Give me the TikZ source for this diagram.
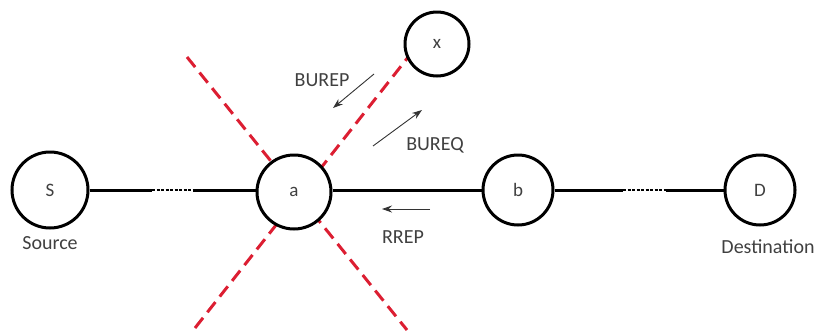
\documentclass[tikz,border=0pt]{standalone}
\usepackage{fontspec}
\setmainfont{Carlito}
\usetikzlibrary{arrows.meta}
\begin{document}
\begin{tikzpicture}[x=1pt,y=-1pt,
  netnode/.style={circle,draw=black,line width=3pt,fill=white,minimum size=70pt,inner sep=0pt,font=\fontsize{19}{21}\selectfont,text=black!75},
  link/.style={line width=3pt,black},
  gap/.style={line width=2.4pt,black,dash pattern=on 3pt off 1.5pt},
  cut/.style={line width=3pt,draw={rgb,255:red,220;green,30;blue,50},dash pattern=on 13pt off 7pt},
  msg/.style={line width=0.9pt,black!80,-{Stealth[length=10pt,width=7pt]}},
  lbl/.style={font=\fontsize{20}{22}\selectfont,text=black!75}]
\useasboundingbox (0,0) rectangle (821,335);

% crossed-out links around node a (drawn first, nodes cover them)
\coordinate (c1a) at (187,57);
\coordinate (c1b) at (407,330);
\coordinate (c2a) at (195,328);
\coordinate (c2b) at (409,56);
\draw[cut] (c1a) -- (c1b);
\draw[cut] (c2a) -- (c2b);

% nodes
\node[netnode,minimum size=76pt] (S) at (50,190) {S};
\node[netnode,minimum size=74pt] (a) at (294,192) {a};
\node[netnode,minimum size=70pt] (b) at (518,190) {b};
\node[netnode,minimum size=70pt] (D) at (760,190) {D};
\node[netnode,minimum size=64pt] (x) at (437,44) {x};

% route S -> a with an elided stretch
\coordinate (g1) at (152,190);
\coordinate (g2) at (193,190);
\draw[link] (S.east) -- (g1);
\draw[gap] (g1) -- (g2);
\draw[link] (g2) -- (a.west |- g2);

% a -> b
\draw[link] (a.east |- b.west) -- (b.west);

% b -> D with an elided stretch
\coordinate (g3) at (623,190);
\coordinate (g4) at (666,190);
\draw[link] (b.east) -- (g3);
\draw[gap] (g3) -- (g4);
\draw[link] (g4) -- (D.west);

% message arrows
\coordinate (p1) at (374,74);
\coordinate (p2) at (333,108);
\draw[msg] (p1) -- (p2);
\node[lbl] (burep) at (322,80) {BUREP};

\coordinate (q1) at (373,146);
\coordinate (q2) at (422,110);
\draw[msg] (q1) -- (q2);
\node[lbl] (bureq) at (435,145) {BUREQ};

\coordinate (r1) at (430,209);
\coordinate (r2) at (382,209);
\draw[msg] (r1) -- (r2);
\node[lbl] (rrep) at (403,237) {RREP};

% end-point captions
\node[lbl] (src) at (50,243) {Source};
\node[lbl] (dst) at (768,247) {Destination};
\end{tikzpicture}
\end{document}
